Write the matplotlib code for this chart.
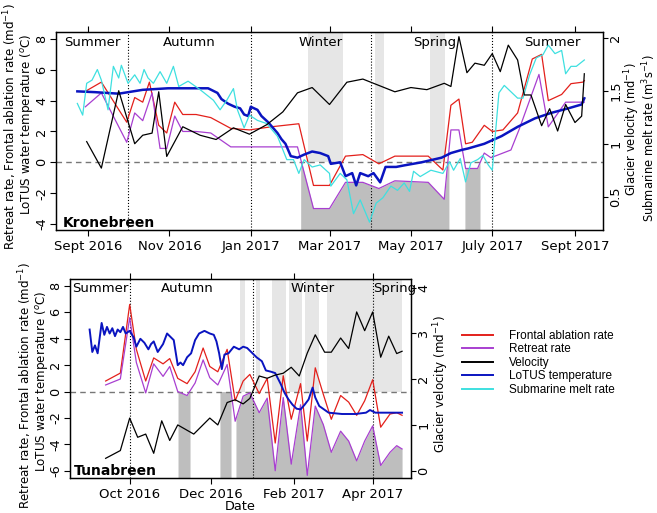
import numpy as np
import matplotlib
matplotlib.use("Agg")
import matplotlib.pyplot as plt
import matplotlib.dates as mdates
from matplotlib.lines import Line2D
from datetime import datetime

plt.rcParams['font.family'] = 'DejaVu Sans'
plt.rcParams['axes.unicode_minus'] = False

# ---------------- Kronebreen (days after 1 Sept 2016) ----------------
kr_start = datetime(2016, 9, 1)

kr_front_day = [-2, 10, 29, 35, 41, 46, 53, 59, 65, 71, 81, 92, 107, 121, 137, 158, 169, 181,
                193, 206, 218, 230, 255, 266, 272, 278, 283, 288, 297, 303, 311, 322, 333, 340,
                345, 355, 362, 371, 372]
kr_front = [4.6, 5.2, 2.6, 4.2, 3.9, 5.2, 2.4, 1.9, 3.9, 3.1, 3.1, 2.9, 2.2, 2.1, 2.3, 2.5, -1.5, -1.5,
            0.4, 0.5, -0.1, 0.4, 0.4, -0.5, 3.7, 4.1, 1.2, 1.3, 2.4, 2.0, 2.1, 3.2, 6.7, 7.0,
            4.0, 4.4, 5.1, 5.2, 5.3]

kr_retreat_day = [-2, 10, 29, 35, 41, 48, 54, 59, 65, 71, 81, 92, 107, 157, 169, 181, 193, 206,
                  218, 230, 255, 267, 272, 278, 283, 292, 297, 302, 317, 323, 338, 345, 358, 372]
kr_retreat = [3.6, 4.5, 1.3, 3.2, 2.7, 4.5, 0.9, 0.9, 3.0, 2.0, 2.0, 1.9, 1.0, 1.0, -3.0, -3.0, -1.3, -1.3,
              -1.7, -1.2, -1.3, -2.4, 2.1, 2.1, -0.4, -0.4, 0.6, 0.3, 0.8, 2.1, 5.7, 2.3, 3.9, 3.9]

kr_vel_day = [-1, 10, 23, 35, 41, 48, 53, 59, 71, 84, 96, 109, 121, 134, 146, 157, 168, 181, 194,
              206, 230, 242, 254, 267, 272, 278, 284, 290, 297, 303, 309, 315, 322, 327, 332, 340,
              346, 352, 358, 365, 370, 372]
kr_vel = [1.02, 0.77, 1.50, 1.00, 1.08, 1.10, 1.49, 0.88, 1.16, 1.08, 1.04, 1.15, 1.09, 1.18, 1.30,
          1.48, 1.53, 1.37, 1.58, 1.61, 1.49, 1.53, 1.51, 1.57, 1.54, 2.01, 1.67, 1.76, 1.74, 1.85,
          1.68, 1.93, 1.79, 1.46, 1.46, 1.17, 1.33, 1.12, 1.37, 1.20, 1.26, 1.66]

kr_temp_day = [-8, 5, 23, 41, 60, 75, 90, 97, 100, 105, 110, 114, 117, 120, 122, 127, 130, 135, 138,
               142, 145, 148, 152, 157, 162, 168, 174, 180, 182, 189, 193, 198, 201, 204, 210, 214,
               219, 223, 231, 237, 250, 265, 272, 280, 285, 297, 310, 322, 335, 347, 360, 370, 372]
kr_temp = [4.6, 4.55, 4.45, 4.7, 4.8, 4.8, 4.8, 4.5, 4.1, 3.8, 3.6, 3.5, 3.1, 3.0, 3.6, 3.4, 3.0, 2.6,
           2.3, 1.9, 1.5, 1.2, 0.4, 0.3, 0.5, 0.7, 0.6, 0.4, -0.1, 0.0, -0.9, -0.7, -1.5, -0.7, -0.9,
           -0.7, -1.3, -0.3, -0.3, -0.2, 0.0, 0.3, 0.6, 0.8, 0.9, 1.2, 1.7, 2.3, 2.85, 3.2, 3.5, 3.75,
           4.15]

kr_melt_day = [-8, -4, -1, 3, 7, 10, 15, 19, 23, 25, 30, 35, 39, 42, 45, 49, 54, 59, 64, 68,
               75, 84, 94, 99, 104, 109, 112, 117, 121, 127, 134, 142, 149, 154, 158, 162, 168, 174,
               181, 182, 189, 194, 199, 204, 211, 216, 221, 227, 232, 237, 241, 244, 249, 257, 266,
               271, 274, 279, 283, 287, 292, 296, 300, 303, 308, 312, 317, 322, 326, 331, 336, 341,
               345, 350, 355, 358, 362, 366, 370, 372]
kr_melt = [1.38, 1.27, 1.57, 1.60, 1.70, 1.60, 1.32, 1.73, 1.62, 1.74, 1.57, 1.65, 1.57, 1.70, 1.62,
           1.57, 1.68, 1.57, 1.73, 1.54, 1.59, 1.51, 1.41, 1.32, 1.41, 1.52, 1.32, 1.15, 1.27, 1.22,
           1.19, 1.07, 0.85, 0.85, 0.72, 0.85, 0.78, 0.80, 0.72, 0.60, 0.72, 0.66, 0.34, 0.47, 0.26,
           0.44, 0.49, 0.60, 0.56, 0.63, 0.55, 0.74, 0.69, 0.75, 0.72, 0.83, 0.75, 0.86, 0.64, 0.82,
           0.85, 0.89, 0.80, 0.75, 1.48, 1.55, 1.49, 1.43, 1.43, 1.65, 1.81, 1.84, 1.93, 1.85, 1.88,
           1.66, 1.73, 1.73, 1.77, 1.79]

kr_light = [(164.6, 190.9), (215, 221.7), (256.2, 267.5)]
kr_dark = [(159.4, 270.5), (282.5, 293.8)]

# ---------------- Tunabreen (days after 1 Oct 2016) ----------------
tu_start = datetime(2016, 10, 1)

tu_day = [-18, -7, 0, 5, 12, 18, 25, 30, 36, 43, 49, 55, 60, 66, 73, 79, 85, 90, 97, 103,
          109, 115, 121, 128, 133, 139, 145, 151, 158, 164, 170, 176, 182, 188, 195, 200, 204]
tu_front = [0.8, 1.4, 6.6, 3.2, 0.8, 2.55, 2.1, 2.5, 1.0, 0.6, 1.5, 3.3, 1.9, 1.5, 3.2, -0.7, 0.8,
            1.3, -0.15, 1.0, -3.9, 1.2, -2.1, 0.6, -3.75, 1.8, -0.2, -2.1, -0.3, -0.8, -1.8, -0.7,
            0.9, -2.7, -1.7, -1.6, -1.8]
tu_retreat = [0.5, 0.95, 5.6, 2.2, -0.1, 2.1, 1.15, 1.9, 0.0, -0.3, 0.65, 2.4, 1.05, 0.5, 2.05, -2.25,
              -0.35, -0.1, -1.6, -0.5, -6.0, -0.45, -5.5, -1.0, -6.35, -1.1, -2.5, -4.6, -3.0, -3.75,
              -5.25, -3.75, -2.6, -5.6, -4.6, -4.1, -4.35]

tu_vel_day = [-18, -7, 0, 6, 12, 18, 24, 30, 36, 48, 60, 66, 73, 79, 85, 90, 97, 103, 109, 115,
              121, 127, 133, 139, 146, 151, 158, 164, 170, 176, 182, 188, 194, 200, 204]
tu_vel = [0.27, 0.44, 1.15, 0.73, 0.80, 0.38, 1.09, 0.66, 1.0, 0.80, 1.15, 1.0, 1.49, 1.55, 1.46,
          1.58, 2.07, 2.02, 2.09, 2.13, 2.26, 2.07, 2.57, 2.97, 2.59, 2.59, 2.90, 2.67, 3.47, 3.06,
          3.47, 2.48, 2.94, 2.56, 2.61]

tu_temp_day = [-30, -28, -26, -24, -21, -19, -17, -15, -13, -11, -9, -7, -5, -3, 0, 3, 5, 8, 11, 14,
               16, 18, 21, 23, 25, 28, 31, 33, 36, 38, 40, 43, 46, 49, 52, 56, 60, 63, 65, 67,
               69, 71, 74, 78, 82, 85, 88, 92, 95, 99, 102, 106, 109, 113, 116, 119, 122, 125, 128,
               131, 134, 137, 139, 142, 149, 159, 169, 177, 180, 184, 194, 204]
tu_temp = [4.7, 3.0, 3.5, 2.9, 5.2, 4.3, 4.9, 4.4, 4.8, 4.2, 4.7, 4.5, 4.9, 4.4, 4.6, 4.1, 3.4, 4.0,
           3.7, 3.2, 3.6, 3.8, 3.0, 3.3, 3.6, 4.4, 4.1, 3.9, 2.0, 2.2, 2.0, 2.6, 2.9, 3.9, 4.4, 4.6,
           4.4, 4.3, 3.8, 2.9, 1.7, 2.8, 2.9, 3.4, 3.2, 3.4, 3.3, 2.9, 2.6, 2.3, 1.6, 1.5, 1.4, 0.6,
           -0.1, -0.6, -1.0, -1.3, -1.35, -1.0, -0.6, 0.3, -0.45, -1.1, -1.6, -1.7, -1.7, -1.6, -1.4,
           -1.6, -1.6, -1.6]

tu_light = [(82.6, 86.4), (94.6, 97.6), (106.6, 117), (119.3, 129), (131.3, 141.8), (147.8, 204)]
tu_dark = [(36.2, 45.2), (67.6, 75.9), (79.6, 204)]

# colours
c_front = '#e3201b'
c_retreat = '#a83fd0'
c_vel = 'black'
c_temp = '#0a14c0'
c_melt = '#3ee0e0'
c_light = '#e6e6e6'
c_dark = '#bebebe'

fig = plt.figure(figsize=(6.57, 5.13), dpi=100)
ax1 = fig.add_axes([56/657, 1-230/513, 547/657, 198/513])
ax3 = fig.add_axes([70/657, 1-478/513, 341/657, 199/513])


def shade(ax, x0, rday, rval, light, dark, ybot, ytop):
    for a, b in light:
        ax.fill_between([x0+a, x0+b], 0, ytop, color=c_light, lw=0, zorder=0)
    for a, b in dark:
        xx = np.linspace(a, b, 300)
        top = np.minimum(np.interp(xx, rday, rval), 0)
        ax.fill_between(x0+xx, ybot, top, color=c_dark, lw=0, zorder=0.5)


def style(ax, axr, xt, xl, yl, yr):
    ax.set_xticks(xt)
    ax.set_xticklabels(xl, fontsize=9.5)
    ax.tick_params(axis='x', top=True, labeltop=False, direction='out', length=4, width=0.8, pad=3)
    ax.set_yticks(yl)
    ax.set_yticklabels([str(v) for v in yl], fontsize=9.3)
    ax.tick_params(axis='y', direction='out', length=4, width=0.8, pad=1.5, labelrotation=90)
    plt.setp(ax.get_yticklabels(), va='center')
    axr.set_yticks(yr)
    axr.set_yticklabels([('%g' % v) for v in yr], fontsize=9.3)
    axr.tick_params(axis='y', direction='out', length=3.5, width=0.8, pad=1, labelrotation=90)
    plt.setp(axr.get_yticklabels(), va='center')
    for a in (ax, axr):
        for s in a.spines.values():
            s.set_linewidth(0.9)


# ---------------- top panel ----------------
x0 = mdates.date2num(kr_start)
ylo, yhi = -4.39, 8.45
shade(ax1, x0, kr_retreat_day, kr_retreat, kr_light, kr_dark, ylo, yhi)
ax1.axhline(0, color='#777777', ls=(0, (4, 3)), lw=1, zorder=1)
for d in [datetime(2016, 10, 1), datetime(2017, 1, 1), datetime(2017, 4, 1), datetime(2017, 7, 1)]:
    ax1.axvline(mdates.date2num(d), color='black', ls=':', lw=0.8, zorder=1)
ax1.plot(x0+np.array(kr_front_day), kr_front, color=c_front, lw=0.9)
ax1.plot(x0+np.array(kr_retreat_day), kr_retreat, color=c_retreat, lw=0.9)
ax1.plot(x0+np.array(kr_temp_day), kr_temp, color=c_temp, lw=1.8)
ax1.set_ylim(ylo, yhi)
ax2 = ax1.twinx()
ax2.plot(x0+np.array(kr_melt_day), kr_melt, color=c_melt, lw=0.9)
ax2.plot(x0+np.array(kr_vel_day), kr_vel, color=c_vel, lw=0.9)
ax2.set_ylim(0.186, 2.054)
ax1.set_xlim(x0-24, x0+386)

kr_ticks = [mdates.date2num(d) for d in [datetime(2016, 9, 1), datetime(2016, 11, 1), datetime(2017, 1, 1),
                                          datetime(2017, 3, 1), datetime(2017, 5, 1), datetime(2017, 7, 1),
                                          datetime(2017, 9, 1)]]
style(ax1, ax2, kr_ticks, ['Sept 2016', 'Nov 2016', 'Jan 2017', 'Mar 2017', 'May 2017', 'July 2017', 'Sept 2017'],
      [-4, -2, 0, 2, 4, 6, 8], [0.5, 1, 1.5, 2])

tr = ax1.get_xaxis_transform()
for lab, d in [('Summer', 3), ('Autumn', 76), ('Winter', 174), ('Spring', 260), ('Summer', 348)]:
    ax1.text(x0+d, 0.945, lab, transform=tr, ha='center', va='center', fontsize=9.5, zorder=5)
ax1.text(0.012, 0.035, 'Kronebreen', transform=ax1.transAxes, fontsize=10, fontweight='bold',
         ha='left', va='center', zorder=5)

# ---------------- bottom panel ----------------
x0 = mdates.date2num(tu_start)
ylo, yhi = -6.55, 8.53
shade(ax3, x0, tu_day, tu_retreat, tu_light, tu_dark, ylo, yhi)
ax3.axhline(0, color='#777777', ls=(0, (4, 3)), lw=1, zorder=1)
for d in [datetime(2016, 10, 1), datetime(2017, 1, 1), datetime(2017, 4, 1)]:
    ax3.axvline(mdates.date2num(d), color='black', ls=':', lw=0.8, zorder=1)
ax3.plot(x0+np.array(tu_day), tu_front, color=c_front, lw=0.9)
ax3.plot(x0+np.array(tu_day), tu_retreat, color=c_retreat, lw=0.9)
ax3.plot(x0+np.array(tu_temp_day), tu_temp, color=c_temp, lw=1.4)
ax3.set_ylim(ylo, yhi)
ax4 = ax3.twinx()
ax4.plot(x0+np.array(tu_vel_day), tu_vel, color=c_vel, lw=0.9)
ax4.set_ylim(-0.16, 4.19)
ax3.set_xlim(x0-44.7, x0+210.7)

tu_ticks = [mdates.date2num(d) for d in [datetime(2016, 10, 1), datetime(2016, 12, 1),
                                          datetime(2017, 2, 1), datetime(2017, 4, 1)]]
style(ax3, ax4, tu_ticks, ['Oct 2016', 'Dec 2016', 'Feb 2017', 'Apr 2017'],
      [-6, -4, -2, 0, 2, 4, 6, 8], [0, 1, 2, 3, 4])
fig.text(240/657, 1-507/513, 'Date', ha='center', va='center', fontsize=9.3)

tr = ax3.get_xaxis_transform()
for lab, d, ha in [('Summer', -22, 'center'), ('Autumn', 43, 'center'), ('Winter', 137, 'center'),
                   ('Spring', 182, 'left')]:
    ax3.text(x0+d, 0.952, lab, transform=tr, ha=ha, va='center', fontsize=9.5, zorder=5)
ax3.text(0.01, 0.037, 'Tunabreen', transform=ax3.transAxes, fontsize=10, fontweight='bold',
         ha='left', va='center', zorder=5)

# ---------------- axis titles ----------------
lab1 = 'Retreat rate, Frontal ablation rate (md$^{-1}$)'
lab2 = 'LoTUS water temperature ($^{o}$C)'
fs = 8.6
fig.text(10/657, 1-126/513, lab1, rotation=90, ha='center', va='center', fontsize=fs)
fig.text(27/657, 1-124/513, lab2, rotation=90, ha='center', va='center', fontsize=fs)
fig.text(632.5/657, 1-129/513, 'Glacier velocity (md$^{-1}$)', rotation=90, ha='center', va='center', fontsize=8.3)
fig.text(649.5/657, 1-138/513, 'Submarine melt rate (m$^{3}$s$^{-1}$)', rotation=90, ha='center', va='center',
         fontsize=8.3)
fig.text(25/657, 1-385/513, lab1, rotation=90, ha='center', va='center', fontsize=fs)
fig.text(42/657, 1-381/513, lab2, rotation=90, ha='center', va='center', fontsize=fs)
fig.text(441/657, 1-384/513, 'Glacier velocity (md$^{-1}$)', rotation=90, ha='center', va='center', fontsize=fs)

# ---------------- legend ----------------
names = ['Frontal ablation rate', 'Retreat rate', 'Velocity', 'LoTUS temperature', 'Submarine melt rate']
cols = [c_front, c_retreat, c_vel, c_temp, c_melt]
handles = [Line2D([], [], color=c, lw=1.4) for c in cols]
fig.legend(handles, names, loc='upper left', bbox_to_anchor=(462/657, 1-330/513), frameon=False,
           prop={'family': 'Liberation Sans', 'size': 8.5}, handlelength=2.6, handletextpad=1.4,
           labelspacing=0.12, borderpad=0, borderaxespad=0)

fig.savefig('out.png', dpi=100)
